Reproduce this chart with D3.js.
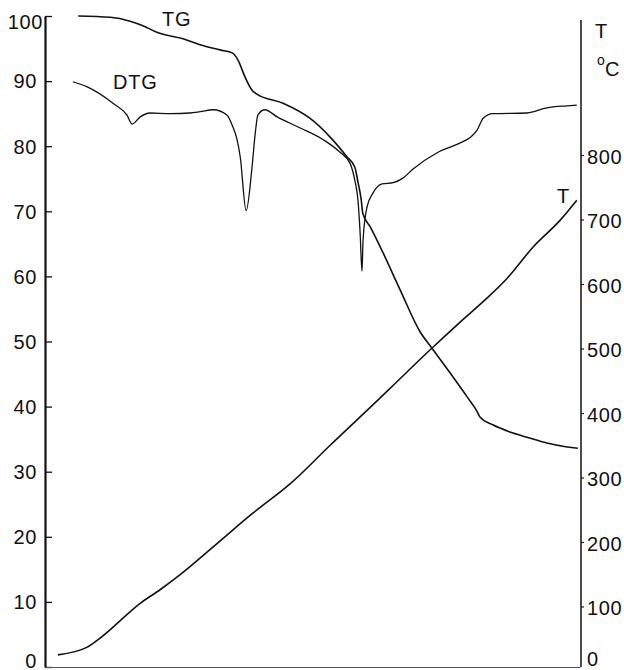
<!DOCTYPE html>
<html>
<head>
<meta charset="utf-8">
<script src="https://cdn.jsdelivr.net/npm/d3@7"></script>
<style>
  body { margin: 0; background: #fff; }
  svg { display: block; }
  text { font-family: "Liberation Sans", Arial, sans-serif; fill: #111; }
</style>
</head>
<body>
<svg id="chart" width="624" height="670"></svg>
<script>
// Tick values for the two vertical axes
const massTicks = [0, 10, 20, 30, 40, 50, 60, 70, 80, 90, 100];
const tempTicks = [0, 100, 200, 300, 400, 500, 600, 700, 800];

// TG: residual mass (%) against time (relative units, 0–100)
const tgTime = [6.2, 12.2, 15.9, 18.3, 20.9, 25.8, 29.0, 32.7, 35.1, 36.1, 37.4, 38.7, 39.6, 44.5, 49.5, 53.3, 56.5, 57.9, 58.5, 59.1, 59.4, 60.8, 63.2, 66.4, 70.1, 72.3, 75.7, 78.9, 80.8, 81.3, 83.7, 86.9, 90.1, 93.8, 97.6, 99.6];
const tgMass = [100.0, 99.8, 99.2, 98.5, 97.5, 96.5, 95.6, 94.8, 94.3, 93.2, 90.6, 88.6, 88.0, 86.6, 84.3, 81.4, 78.3, 76.8, 74.5, 71.8, 69.7, 67.6, 63.6, 57.9, 51.5, 49.0, 45.2, 41.5, 39.2, 38.4, 37.2, 36.1, 35.3, 34.4, 33.8, 33.6];

// DTG: derivative signal, drawn on the mass scale
const dtgTime = [5.2, 7.9, 12.7, 15.3, 16.3, 17.8, 19.6, 23.4, 27.1, 29.0, 31.4, 34.0, 35.1, 35.9, 36.5, 37.6, 38.7, 39.3, 39.8, 41.1, 43.4, 47.7, 52.0, 55.1, 57.0, 57.9, 58.5, 58.9, 59.25, 59.45, 60.2, 61.3, 63.0, 65.1, 66.9, 68.8, 73.3, 77.6, 79.4, 80.8, 81.9, 83.7, 90.1, 93.8, 97.6, 99.4];
const dtgSignal = [89.9, 89.1, 86.6, 84.8, 83.4, 84.5, 85.1, 85.0, 85.1, 85.3, 85.6, 84.8, 83.0, 81.0, 78.3, 70.1, 76.8, 82.0, 84.8, 85.6, 84.5, 82.8, 81.0, 79.1, 77.4, 74.8, 71.7, 66.7, 60.8, 65.6, 70.7, 72.8, 74.2, 74.4, 75.1, 76.5, 79.0, 80.5, 81.3, 82.5, 84.3, 85.0, 85.1, 85.9, 86.2, 86.3];

// T: furnace temperature (°C) against time
const tTime = [2.4, 7.9, 10.3, 17.8, 21.5, 25.2, 32.2, 38.9, 45.8, 53.3, 62.6, 65.1, 72.0, 77.6, 82.6, 86.4, 91.2, 96.3, 99.4];
const tTemp = [25, 37, 51, 105, 126, 149, 198, 245, 290, 350, 423, 443, 498, 541, 578, 609, 657, 699, 730];

const svg = d3.select("#chart");

const x = d3.scaleLinear().domain([0, 100]).range([45, 580]);
const yMass = d3.scaleLinear().domain([0, 100]).range([667, 16]);
const yTemp = d3.scaleLinear().domain([0, 800]).range([671, 155]);

// Left axis: mass %, ticks pointing into the plot
const left = svg.append("g")
  .attr("transform", "translate(45,0)")
  .call(d3.axisLeft(yMass).tickValues(massTicks).tickSizeInner(-7).tickSizeOuter(0).tickPadding(8));
left.select(".domain").attr("stroke", "#111").attr("stroke-width", 2.2);
left.selectAll(".tick line").attr("stroke", "#111").attr("stroke-width", 1.3);
left.selectAll(".tick text")
  .attr("font-size", 20).attr("font-family", null).attr("letter-spacing", 0.6)
  .attr("dx", d => d === 100 ? 6 : 0)
  .attr("dy", d => d === 100 ? "0.62em" : d === 0 ? "0.0em" : "0.34em");

// Right axis: temperature
const right = svg.append("g")
  .attr("transform", "translate(581,0)")
  .call(d3.axisRight(yTemp).tickValues(tempTicks).tickSizeInner(3).tickSizeOuter(0).tickPadding(3));
right.select(".domain").remove();
right.selectAll(".tick line").attr("stroke", "#222").attr("stroke-width", 1.2);
right.selectAll(".tick text")
  .attr("font-size", 20).attr("font-family", null).attr("letter-spacing", 0.6)
  .attr("dy", d => d === 0 ? "-0.3em" : "0.42em");
right.append("line")
  .attr("x1", 0).attr("x2", 0)
  .attr("y1", 20).attr("y2", yMass(0))
  .attr("stroke", "#111").attr("stroke-width", 1.5);

// Baseline
const bottom = svg.append("g")
  .attr("transform", `translate(0,${yMass(0)})`)
  .call(d3.axisBottom(x).tickValues([]).tickSizeOuter(0));
bottom.select(".domain").attr("stroke", "#555").attr("stroke-width", 1.2);

// Curves
const curve = (xs, ys, yScale) => d3.line()
  .x(d => x(d[0]))
  .y(d => yScale(d[1]))
  .curve(d3.curveMonotoneX)(xs.map((v, i) => [v, ys[i]]));

svg.append("path").attr("d", curve(tgTime, tgMass, yMass))
  .attr("fill", "none").attr("stroke", "#111").attr("stroke-width", 1.6);
svg.append("path").attr("d", curve(dtgTime, dtgSignal, yMass))
  .attr("fill", "none").attr("stroke", "#111").attr("stroke-width", 1.3);
svg.append("path").attr("d", curve(tTime, tTemp, yTemp))
  .attr("fill", "none").attr("stroke", "#111").attr("stroke-width", 1.6);

// Curve labels
const label = (tx, ty, s, size) => svg.append("text")
  .attr("x", tx).attr("y", ty).attr("font-size", size || 20).attr("letter-spacing", 0.8).text(s);
label(162, 26, "TG");
label(113, 89, "DTG");
label(557, 203, "T");

// Right axis title: T, °C
label(595, 38, "T");
svg.append("text").attr("x", 597).attr("y", 65).attr("font-size", 14).text("o");
svg.append("text").attr("x", 605).attr("y", 76).attr("font-size", 20).text("C");
</script>
</body>
</html>
